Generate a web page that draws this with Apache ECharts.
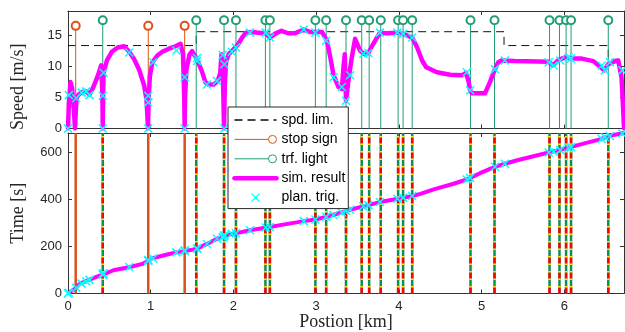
<!DOCTYPE html>
<html>
<head>
<meta charset="utf-8">
<script src="https://cdn.jsdelivr.net/npm/echarts@6/dist/echarts.min.js"></script>
<style>
html, body { margin: 0; padding: 0; background: #fff; }
#main { width: 625px; height: 332px; }
</style>
</head>
<body>
<div id="main"></div>
<script>
// positions along the route, km
const stopSignPos = [0.093, 0.97, 1.41];
const trfLightPos = [0.42, 1.55, 1.886, 2.03, 2.386, 2.44, 2.99, 3.12, 3.36, 3.55, 3.64,
  3.78, 3.99, 4.05, 4.16, 4.865, 5.155, 5.82, 5.94, 6.02, 6.08, 6.53];
const stopStemTop = 16.6;
const lightStemTop = 17.5;

// speed limit steps
const limitPos = [0, 1.55, 5.27, 6.53, 6.72];
const limitSpeed = [13.41, 15.65, 13.41, 11.18, 11.18];

// simulated speed profile
const simPos = [0, 0.01, 0.03, 0.05, 0.07, 0.085, 0.095, 0.105, 0.13, 0.17, 0.22, 0.26, 0.30,
  0.36, 0.40, 0.41, 0.415, 0.42, 0.425, 0.43, 0.47, 0.53, 0.60, 0.68, 0.74, 0.80, 0.86, 0.92,
  0.95, 0.967, 0.975, 0.99, 1.02, 1.08, 1.14, 1.22, 1.30, 1.36, 1.39, 1.405, 1.41, 1.415, 1.43,
  1.47, 1.50, 1.54, 1.58, 1.62, 1.66, 1.70, 1.76, 1.81, 1.84, 1.855, 1.875, 1.886, 1.895, 1.91,
  1.94, 2.00, 2.05, 2.10, 2.15, 2.22, 2.30, 2.39, 2.44, 2.50, 2.58, 2.66, 2.74, 2.85, 2.93,
  3.07, 3.13, 3.17, 3.21, 3.27, 3.31, 3.33, 3.345, 3.36, 3.39, 3.43, 3.47, 3.49, 3.53, 3.57,
  3.63, 3.69, 3.77, 3.85, 3.97, 4.05, 4.16, 4.22, 4.28, 4.33, 4.46, 4.62, 4.76, 4.81, 4.84,
  4.86, 4.88, 5.04, 5.10, 5.16, 5.20, 5.24, 5.40, 5.81, 5.86, 5.93, 6.01, 6.09, 6.21, 6.35,
  6.48, 6.53, 6.60, 6.65, 6.69, 6.71, 6.72];
const simSpeed = [0, 4, 7.5, 6.5, 3, 0, 3, 5, 5.5, 5.9, 6.0, 5.5, 6.5,
  8.5, 10.2, 10.4, 6, 0, 6, 9, 11, 12.4, 13.1, 13.3, 12.4, 11.2, 9.5, 7,
  4.5, 0, 5, 8.5, 10.7, 11.8, 12.4, 12.9, 13.3, 13.7, 12, 5, 0, 5, 9.5,
  12, 12.5, 11.6, 10.5, 9.2, 7.5, 7.1, 7.1, 7.7, 9, 12, 7, 0, 7, 10.7,
  12, 12.8, 13.5, 14.6, 15.5, 15.6, 15.5, 15.4, 14.7, 15.3, 15.8, 15.4, 15.4, 16.0, 15.6,
  15.6, 14.2, 11.5, 8.6, 6.7, 6.4, 10, 12, 4.5, 7.8, 11.5, 14.5, 14.7, 12.6, 12.1,
  12.2, 13.7, 15.5, 15.4, 15.5, 15.3, 14.7, 13.1, 11, 9.9, 9.1, 8.7, 8.6, 9.0, 7.7,
  6.2, 5.7, 5.7, 7.5, 9.6, 10.7, 11.0, 10.9, 10.8, 10.2, 11.1, 11.5, 11.3, 11.3, 10.9,
  9.4, 10.4, 10.8, 11, 8.3, 3, 0];

// simulated elapsed time
const timePos = [0, 0.085, 0.145, 0.245, 0.35, 0.42, 0.425, 0.55, 0.75, 0.9, 0.97, 0.975, 1.01,
  1.2, 1.31, 1.41, 1.415, 1.56, 1.68, 1.8, 1.886, 1.9, 1.98, 2.04, 2.2, 2.44, 2.6, 2.87, 2.99,
  3.12, 3.19, 3.31, 3.37, 3.57, 3.63, 3.77, 3.99, 4.16, 4.26, 4.42, 4.65, 4.82, 4.86, 4.98,
  5.16, 5.28, 5.43, 5.81, 5.93, 6.07, 6.3, 6.43, 6.53, 6.72];
const timeVal = [0, 21, 42, 57, 72, 80, 85, 99, 113, 126, 138, 143, 149,
  166, 175, 180, 184, 191, 211, 233, 244, 248, 254, 257, 269, 283, 293, 309, 315,
  326, 333, 345, 353, 371, 376, 389, 403, 415, 424, 443, 466, 485, 492, 512,
  539, 552, 567, 600, 610, 623, 644, 656, 670, 683];

// planner triggers
const trigPos = [0, 0.01, 0.10, 0.165, 0.22, 0.26, 0.42, 0.42, 0.43, 0.74, 0.97, 0.97, 0.97,
  1.03, 1.31, 1.41, 1.41, 1.56, 1.56, 1.68, 1.80, 1.87, 1.89, 1.89, 1.98, 2.03, 2.20, 2.39,
  2.44, 2.85, 2.99, 3.12, 3.21, 3.31, 3.36, 3.41, 3.57, 3.63, 3.77, 3.98, 4.05, 4.16, 4.82,
  4.86, 5.16, 5.28, 5.81, 5.87, 5.95, 6.05, 6.08, 6.45, 6.49, 6.55, 6.70];
const trigSpeed = [0, 5.4, 4.9, 5.8, 6.0, 5.4, 0, 5.3, 9.0, 12.3, 0, 4.2, 5.3,
  10.7, 12.6, 0, 8.3, 10.9, 11.4, 7.1, 7.7, 11.9, 0, 10.4, 12.4, 13.1, 15.5, 15.5,
  14.7, 16.0, 15.5, 14.2, 8.3, 6.7, 4.5, 8.6, 12.1, 12.2, 15.5, 15.5, 15.3, 14.7, 9.1,
  6.2, 9.6, 11.0, 10.7, 10.2, 11.0, 11.5, 11.3, 10.2, 9.4, 10.7, 9.4];
const trigTime = [0, 3, 24, 42, 52, 58, 80, 84, 86, 113, 138, 141, 142,
  149, 175, 180, 184, 191, 192, 211, 233, 240, 244, 248, 254, 256, 269, 281,
  283, 308, 315, 326, 334, 345, 352, 356, 371, 376, 389, 403, 408, 415, 485,
  492, 539, 552, 600, 603, 610, 620, 623, 658, 665, 670, 681];

const xMax = 6.72;
const speedMax = 19;
const timeMax = 683;

const zip = (xs, ys) => xs.map((x, i) => [x, ys[i]]);
function stemData(pos, top) {
  const pts = [];
  pos.forEach(function (x) {
    pts.push([x, 0], [x, top], [x, '-']);
  });
  return pts;
}

const axisColor = '#333';
const labelFont = { fontFamily: 'Liberation Sans', fontSize: 13, color: '#262626' };
const nameFont = { fontFamily: 'Liberation Serif', fontSize: 18, color: '#262626' };
const stopColor = '#D95319';
const lightColor = '#1f9e74';
const crossIcon = 'path://M0,0L8,8M8,0L0,8';
const stemIcon = 'path://M0,4L34,4M42,4A4,4,0,1,1,34,4A4,4,0,1,1,42,4';

function boxAxis(gridIndex, position, min, max, interval, showLabel) {
  return {
    type: 'value', gridIndex: gridIndex, position: position,
    min: min, max: max, interval: interval,
    axisLine: { show: true, onZero: false, lineStyle: { color: axisColor, width: 1 } },
    axisTick: { show: true, inside: true, length: 4, lineStyle: { color: axisColor } },
    axisLabel: Object.assign({ show: showLabel, showMaxLabel: false, margin: 6 }, labelFont),
    splitLine: { show: false }
  };
}

const xTop = boxAxis(0, 'bottom', 0, xMax, 1, false);
const xTopUp = boxAxis(0, 'top', 0, xMax, 1, false);
const xBot = Object.assign(boxAxis(1, 'bottom', 0, xMax, 1, true), {
  name: 'Postion [km]', nameLocation: 'middle', nameGap: 20, nameTextStyle: nameFont
});
const xBotUp = boxAxis(1, 'top', 0, xMax, 1, false);
const ySpeed = Object.assign(boxAxis(0, 'left', 0, speedMax, 5, true), {
  name: 'Speed [m/s]', nameLocation: 'middle', nameGap: 41,
  nameTextStyle: Object.assign({ padding: [0, 34, 0, 0] }, nameFont)
});
const ySpeedR = boxAxis(0, 'right', 0, speedMax, 5, false);
const yTime = Object.assign(boxAxis(1, 'left', 0, timeMax, 200, true), {
  name: 'Time [s]', nameLocation: 'middle', nameGap: 41, nameTextStyle: nameFont
});
const yTimeR = boxAxis(1, 'right', 0, timeMax, 200, false);

const option = {
  animation: false,
  backgroundColor: '#fff',
  grid: [
    { left: 68, top: 11, width: 556, height: 117.5, outerBoundsMode: 'none' },
    { left: 68, top: 133, width: 556, height: 160.5, outerBoundsMode: 'none' }
  ],
  xAxis: [xTop, xTopUp, xBot, xBotUp],
  yAxis: [ySpeed, ySpeedR, yTime, yTimeR],
  legend: {
    orient: 'vertical', left: 228, top: 107,
    backgroundColor: '#fff', borderColor: '#262626', borderWidth: 1, borderRadius: 0,
    padding: [6, 3, 4, 4], itemGap: 5.4, itemWidth: 42, itemHeight: 8,
    textStyle: { fontFamily: 'Liberation Sans', fontSize: 14, color: '#000' },
    selectedMode: false,
    data: [
      { name: 'spd. lim.', itemStyle: { opacity: 0 }, lineStyle: { color: '#444' } },
      { name: 'stop sign', icon: stemIcon, itemStyle: { color: 'none', borderColor: stopColor, borderWidth: 1 } },
      { name: 'trf. light', icon: stemIcon, itemStyle: { color: 'none', borderColor: lightColor, borderWidth: 1 } },
      { name: 'sim. result', itemStyle: { opacity: 0 }, lineStyle: { width: 4.5 } },
      { name: 'plan. trig.', icon: crossIcon, itemStyle: { color: 'none', borderColor: '#00FFFF', borderWidth: 1.3 } }
    ]
  },
  series: [
    {
      name: 'spd. lim.', type: 'line', xAxisIndex: 0, yAxisIndex: 0,
      step: 'end', symbol: 'none', data: zip(limitPos, limitSpeed),
      lineStyle: { color: '#111', width: 1, type: [8, 5] }, itemStyle: { color: '#111' }
    },
    {
      name: 'stop sign', type: 'line', xAxisIndex: 0, yAxisIndex: 0,
      data: stemData(stopSignPos, stopStemTop),
      symbol: 'emptyCircle', symbolSize: v => (v[1] > 0 ? 8 : 0),
      lineStyle: { color: stopColor, width: 1 }, itemStyle: { color: stopColor, borderWidth: 1 }
    },
    {
      name: 'trf. light', type: 'line', xAxisIndex: 0, yAxisIndex: 0,
      data: stemData(trfLightPos, lightStemTop),
      symbol: 'emptyCircle', symbolSize: v => (v[1] > 0 ? 8 : 0),
      lineStyle: { color: lightColor, width: 1 }, itemStyle: { color: lightColor, borderWidth: 1 }
    },
    {
      name: 'sim. result', type: 'line', xAxisIndex: 0, yAxisIndex: 0,
      data: zip(simPos, simSpeed), symbol: 'none',
      lineStyle: { color: '#FF00FF', width: 4.5, join: 'round', cap: 'round' },
      itemStyle: { color: '#FF00FF' }
    },
    {
      name: 'plan. trig.', type: 'scatter', xAxisIndex: 0, yAxisIndex: 0, z: 3,
      data: zip(trigPos, trigSpeed), symbol: crossIcon, symbolSize: 8,
      itemStyle: { color: 'rgba(0,0,0,0)', borderColor: '#00FFFF', borderWidth: 1.5, opacity: 1 }
    },
    // lower panel: signal lines over time
    {
      name: 'stop sign', type: 'line', xAxisIndex: 2, yAxisIndex: 2,
      data: stemData(stopSignPos, timeMax), symbol: 'none',
      lineStyle: { color: stopColor, width: 2.5 }
    },
    {
      name: 'trf. light', type: 'line', xAxisIndex: 2, yAxisIndex: 2,
      data: stemData(trfLightPos, timeMax), symbol: 'none',
      lineStyle: { color: '#138a5a', width: 2.5 }
    },
    {
      name: 'trf. light', type: 'line', xAxisIndex: 2, yAxisIndex: 2,
      data: stemData(trfLightPos, timeMax), symbol: 'none',
      lineStyle: { color: '#FF0000', width: 2.5, type: [6, 9], dashOffset: 0 }
    },
    {
      name: 'trf. light', type: 'line', xAxisIndex: 2, yAxisIndex: 2,
      data: stemData(trfLightPos, timeMax), symbol: 'none',
      lineStyle: { color: '#FFE600', width: 2.5, type: [1.5, 6, 1.5, 6], dashOffset: 9 }
    },
    {
      name: 'sim. result', type: 'line', xAxisIndex: 2, yAxisIndex: 2,
      data: zip(timePos, timeVal), symbol: 'none',
      lineStyle: { color: '#FF00FF', width: 4, join: 'round' }
    },
    {
      name: 'plan. trig.', type: 'scatter', xAxisIndex: 2, yAxisIndex: 2, z: 3,
      data: zip(trigPos, trigTime), symbol: crossIcon, symbolSize: 8,
      itemStyle: { color: 'rgba(0,0,0,0)', borderColor: '#00FFFF', borderWidth: 1.5, opacity: 1 }
    }
  ]
};

const chart = echarts.init(document.getElementById('main'));
chart.setOption(option);
</script>
</body>
</html>
